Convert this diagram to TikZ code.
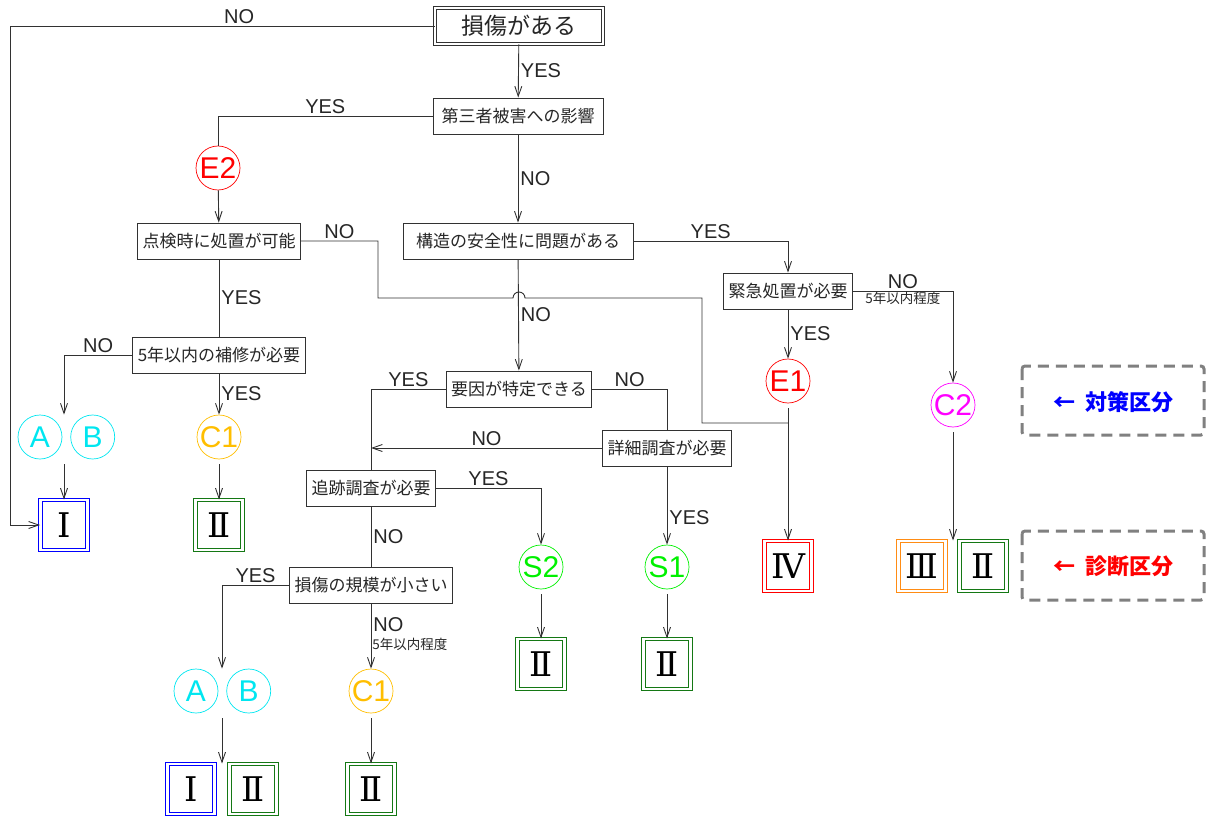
\documentclass[tikz,border=0pt]{standalone}
\usepackage{fontspec}
\setmainfont{Liberation Sans}
\newfontfamily\jpfont{Noto Sans CJK JP}
\newfontfamily\numfont{DejaVu Serif}
\usetikzlibrary{arrows.meta,positioning}
\definecolor{linegray}{RGB}{50,50,50}
\definecolor{cyanA}{RGB}{0,230,240}
\definecolor{yellowC}{RGB}{255,190,0}
\definecolor{greenS}{RGB}{0,240,0}
\definecolor{greenR}{RGB}{20,120,20}
\definecolor{orangeR}{RGB}{255,140,20}
\definecolor{pinkC}{RGB}{255,0,255}
\definecolor{legendgray}{RGB}{128,128,128}

\begin{document}
\begin{tikzpicture}[x=1pt, y=-1pt,
    q/.style={draw=linegray, line width=0.9pt, font=\jpfont\fontsize{17}{20}\selectfont, minimum height=36pt, inner xsep=5pt, text=black!85},
    sign/.style={circle, draw=#1, text=#1, line width=0.7pt, minimum size=44pt, inner sep=0pt, font=\fontsize{30}{32}\selectfont},
    rank/.style={draw=#1, double=white, double distance=2.5pt, line width=1pt, minimum width=47pt, minimum height=50pt, inner sep=0pt, font=\numfont\fontsize{34}{36}\selectfont},
    lbl/.style={font=\fontsize{20}{22}\selectfont, inner sep=2pt, text=black!85},
    note/.style={font=\jpfont\fontsize{13.5}{15}\selectfont, inner sep=1pt, text=black!85},
    link/.style={draw=linegray, line width=0.9pt},
    legendbox/.style={draw=legendgray, line width=3pt, dash pattern=on 11pt off 7pt, rounded corners=3pt},
    legendtxt/.style={font=\jpfont\bfseries\fontsize{22}{24}\selectfont},
    >={Straight Barb[length=10pt, width=7pt]}
]
\useasboundingbox (0,0) rectangle (1209,818);

% questions
\node[q, double=white, double distance=2.5pt, line width=1pt, minimum width=168pt, font=\jpfont\fontsize{23}{26}\selectfont] (dmg) at (519,26) {損傷がある};
\node[q, minimum width=170pt] (third) at (518,116) {第三者被害への影響};
\node[q] (onsite) at (219,241) {点検時に処置が可能};
\node[q, minimum width=230pt] (struct) at (518,241) {構造の安全性に問題がある};
\node[q] (repair) at (219,355) {5年以内の補修が必要};
\node[q] (urgent) at (788,291) {緊急処置が必要};
\node[q] (cause) at (519,389) {要因が特定できる};
\node[q] (detail) at (667,448) {詳細調査が必要};
\node[q] (track) at (371,488) {追跡調査が必要};
\node[q] (scale) at (371,585) {損傷の規模が小さい};

% measures
\node[sign=red] (e2) at (218,168) {E2};
\node[sign=cyanA] (a1) at (40,437) {A};
\node[sign=cyanA, right=8pt of a1] (b1) {B};
\node[sign=yellowC] (c1a) at (219,437) {C1};
\node[sign=red] (e1) at (788,381) {E1};
\node[sign=pinkC] (c2) at (953,405) {C2};
\node[sign=greenS] (s2) at (541,567) {S2};
\node[sign=greenS] (s1) at (667,567) {S1};
\node[sign=cyanA] (a2) at (196,691) {A};
\node[sign=cyanA, right=8pt of a2] (b2) {B};
\node[sign=yellowC] (c1b) at (371,691) {C1};

% ranks
\node[rank=blue] (rI1) at (64,525) {Ⅰ};
\node[rank=greenR] (rII1) at (219,525) {Ⅱ};
\node[rank=red] (rIV) at (788,566) {Ⅳ};
\node[rank=orangeR] (rIII) at (922,566) {Ⅲ};
\node[rank=greenR] (rII2) at (983,566) {Ⅱ};
\node[rank=greenR] (rII3) at (541,664) {Ⅱ};
\node[rank=greenR] (rII4) at (667,664) {Ⅱ};
\node[rank=blue] (rI2) at (191,789) {Ⅰ};
\node[rank=greenR] (rII5) at (253,789) {Ⅱ};
\node[rank=greenR] (rII6) at (371,789) {Ⅱ};

\coordinate (nol) at (10,26);
\coordinate (ab1) at (64,437);
\coordinate (ab2) at (222,691);
\coordinate (j1) at (788,423);

% connectors
\draw[link,->] (dmg) -- node[lbl, right] {YES} (third);
\draw[link,->] (dmg) -- node[lbl, above, pos=0.46] {NO} (nol) |- (rI1);
\draw[link] (third) -| node[lbl, above, pos=0.25] {YES} (e2);
\draw[link,->] (third) -- node[lbl, right] {NO} (struct);
\draw[link,->] (e2) -- (onsite);
\draw[link] (onsite) -- node[lbl, above] {NO} (378,241) -- (378,298) -- (513,298)
    arc[start angle=180, end angle=0, radius=6pt] -- (702,298) -- (702,423) -- (j1);
\draw[link] (onsite) -- node[lbl, right] {YES} (repair);
\draw[link,->] (repair) -| node[lbl, above, pos=0.25] {NO} (ab1 |- a1.north);
\draw[link,->] (repair) -- node[lbl, right] {YES} (c1a);
\draw[link,->,shorten <=5pt] (ab1 |- a1.south) -- (rI1);
\draw[link,->,shorten <=5pt] (c1a) -- (rII1);
\draw[link,->] (struct) -| node[lbl, above, pos=0.25] {YES} (urgent);
\draw[link,->] (urgent) -| node[lbl, above, pos=0.25] {NO} node[note, below, pos=0.25] {5年以内程度} (c2);
\draw[link,->] (urgent) -- node[lbl, right] {YES} (e1);
\draw[link,->,shorten <=5pt] (e1) -- (rIV);
\draw[link,->,shorten <=5pt] (c2) -- (c2 |- rIII.north);
\draw[link,->] (struct) -- node[lbl, right] {NO} (cause);
\draw[link] (cause) -| node[lbl, above, pos=0.25] {YES} (track);
\draw[link] (cause) -| node[lbl, above, pos=0.25] {NO} (detail);
\draw[link,->] (detail) -- node[lbl, above] {NO} (detail -| track);
\draw[link,->] (detail) -- node[lbl, right, pos=0.65] {YES} (s1);
\draw[link,->] (track) -| node[lbl, above, pos=0.25] {YES} (s2);
\draw[link] (track) -- node[lbl, right] {NO} (scale);
\draw[link,->] (scale) -| node[lbl, above, pos=0.25] {YES} (ab2 |- a2.north);
\draw[link,->] (scale) -- node[lbl, right, pos=0.32] {NO} node[note, right, pos=0.62] {5年以内程度} (c1b);
\draw[link,->,shorten <=5pt] (ab2 |- a2.south) -- (ab2 |- rI2.north);
\draw[link,->,shorten <=5pt] (s2) -- (rII3);
\draw[link,->,shorten <=5pt] (s1) -- (rII4);
\draw[link,->,shorten <=5pt] (c1b) -- (rII6);

% legend
\draw[legendbox] (1022,366) rectangle (1204,435);
\node[legendtxt, text=blue] (lgd1) at (1113,402) {←\hspace{10pt}対策区分};
\draw[legendbox] (1022,531) rectangle (1204,600);
\node[legendtxt, text=red] (lgd2) at (1113,566) {←\hspace{10pt}診断区分};
\end{tikzpicture}
\end{document}
